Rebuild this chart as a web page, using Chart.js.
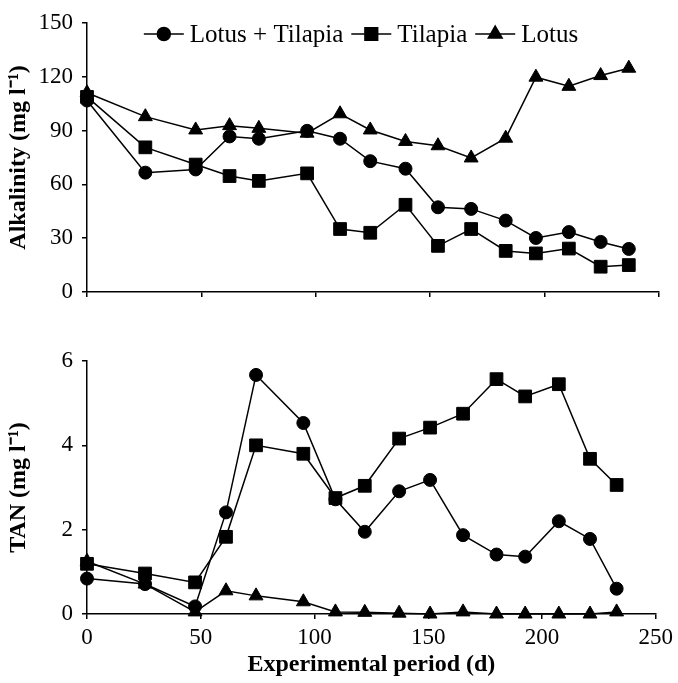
<!DOCTYPE html>
<html>
<head>
<meta charset="utf-8">
<script src="https://cdn.jsdelivr.net/npm/chart.js@4"></script>
<style>
  body { margin: 0; background: #fff; }
  canvas { display: block; }
</style>
</head>
<body>
<canvas id="alkChart" width="678" height="330"></canvas>
<canvas id="tanChart" width="678" height="353"></canvas>
<script>
// sampling days
const daysTop = [0, 25.5, 47.5, 62.3, 75.1, 96.2, 110.6, 123.8, 139.2, 153.4, 167.9, 183, 196.2, 210.6, 224.5, 236.8];
const daysBottom = [0, 25.5, 47.5, 61.1, 74.3, 95.1, 109.2, 122.1, 137.2, 150.8, 165.3, 180, 192.6, 207.4, 221.1, 232.8];

const seriesNames = ['Lotus + Tilapia', 'Tilapia', 'Lotus'];
const markerStyles = ['circle', 'rect', 'triangle'];
const markerSizes = [6.5, 9, 8];

// alkalinity (mg l-1)
const alkLotusTilapia = [106.7, 66.5, 68.3, 86.7, 85.4, 89.8, 85.4, 72.9, 68.7, 47.2, 46.3, 39.8, 30.1, 33.4, 27.9, 24.0];
const alkTilapia = [108.7, 80.6, 71.0, 64.6, 61.9, 66.1, 35.1, 33.0, 48.6, 25.7, 35.1, 22.9, 21.5, 24.2, 14.1, 15.0];
const alkLotus = [111, 97.7, 90.3, 92.7, 91.2, 88.5, 99.3, 90.3, 83.9, 81.5, 74.7, 85.7, 119.7, 114.6, 120.6, 124.7];

// TAN (mg l-1)
const tanLotusTilapia = [0.84, 0.71, 0.18, 2.41, 5.67, 4.53, 2.72, 1.95, 2.91, 3.18, 1.87, 1.41, 1.36, 2.20, 1.78, 0.60];
const tanTilapia = [1.19, 0.96, 0.75, 1.83, 4.0, 3.80, 2.75, 3.04, 4.16, 4.42, 4.75, 5.57, 5.16, 5.45, 3.68, 3.06];
const tanLotus = [1.25, 0.71, 0.05, 0.55, 0.43, 0.29, 0.05, 0.04, 0.02, 0.0, 0.05, 0, 0, 0, 0, 0.05];

const FONT = "'Liberation Serif', 'Times New Roman', serif";

function makeSets(days, lists) {
    return lists.map((vals, i) => ({
        label: seriesNames[i],
        data: days.map((d, j) => ({ x: d, y: vals[j] })),
        borderColor: '#000',
        backgroundColor: '#000',
        borderWidth: 1.5,
        pointStyle: markerStyles[i],
        pointRadius: markerSizes[i],
        pointBackgroundColor: '#000',
        pointBorderColor: '#000',
        pointBorderWidth: 1,
        tension: 0,
        clip: false
    }));
}

// legend drawn as line - marker - line, like the original figure
const lineLegend = {
    id: 'lineLegend',
    afterDraw(chart) {
        const ctx = chart.ctx;
        ctx.save();
        ctx.font = '25px ' + FONT;
        const symW = 40, gapA = 6, gapB = 8;
        let total = 0;
        seriesNames.forEach((n, i) => {
            total += symW + gapA + ctx.measureText(n).width + (i < seriesNames.length - 1 ? gapB : 0);
        });
        let x = 361 - total / 2;
        const y = 34;
        seriesNames.forEach((n, i) => {
            ctx.strokeStyle = '#000';
            ctx.fillStyle = '#000';
            ctx.lineWidth = 1.5;
            ctx.beginPath();
            ctx.moveTo(x, y);
            ctx.lineTo(x + symW, y);
            ctx.stroke();
            Chart.helpers.drawPoint(ctx, {
                pointStyle: markerStyles[i], radius: markerSizes[i], rotation: 0, borderWidth: 1
            }, x + symW / 2, y);
            x += symW + gapA;
            ctx.textBaseline = 'middle';
            ctx.textAlign = 'left';
            ctx.fillText(n, x, y + 1);
            x += ctx.measureText(n).width + gapB;
        });
        ctx.restore();
    }
};

function axisOpts(extra) {
    return Object.assign({
        border: { display: true, color: '#000', width: 1.5 },
        grid: { display: true, drawOnChartArea: false, drawTicks: true, tickLength: 5, color: '#000', lineWidth: 1.5 }
    }, extra);
}

function buildChart(id, sets, yMax, yStep, yTitle, showXLabels, padTop, xHeight, plugins) {
    return new Chart(document.getElementById(id), {
        type: 'line',
        data: { datasets: sets },
        options: {
            responsive: false,
            animation: false,
            layout: { padding: { top: padTop, right: 19, left: 0, bottom: 0 } },
            plugins: { legend: { display: false }, tooltip: { enabled: false } },
            scales: {
                x: axisOpts({
                    type: 'linear', min: 0, max: 250,
                    ticks: {
                        display: showXLabels, stepSize: 50, color: '#000', padding: 5,
                        font: { family: FONT, size: 23 }
                    },
                    title: {
                        display: showXLabels, text: 'Experimental period (d)', color: '#000',
                        font: { family: FONT, size: 24, weight: 'bold' }, padding: { top: 0, bottom: 4 }
                    },
                    afterFit(s) { s.height = xHeight; }
                }),
                y: axisOpts({
                    min: 0, max: yMax,
                    ticks: {
                        stepSize: yStep, color: '#000', padding: 9,
                        font: { family: FONT, size: 23 }
                    },
                    title: {
                        display: true, text: yTitle, color: '#000',
                        font: { family: FONT, size: 24, weight: 'bold' }, padding: { top: 4, bottom: 0 }
                    },
                    afterFit(s) { s.width = 87; }
                })
            }
        },
        plugins: plugins
    });
}

buildChart('alkChart', makeSets(daysTop, [alkLotusTilapia, alkTilapia, alkLotus]),
    150, 30, 'Alkalinity (mg l\u207B\u00B9)', false, 21, 38, [lineLegend]);
buildChart('tanChart', makeSets(daysBottom, [tanLotusTilapia, tanTilapia, tanLotus]),
    6, 2, 'TAN (mg l\u207B\u00B9)', true, 31, 69, []);
</script>
</body>
</html>
